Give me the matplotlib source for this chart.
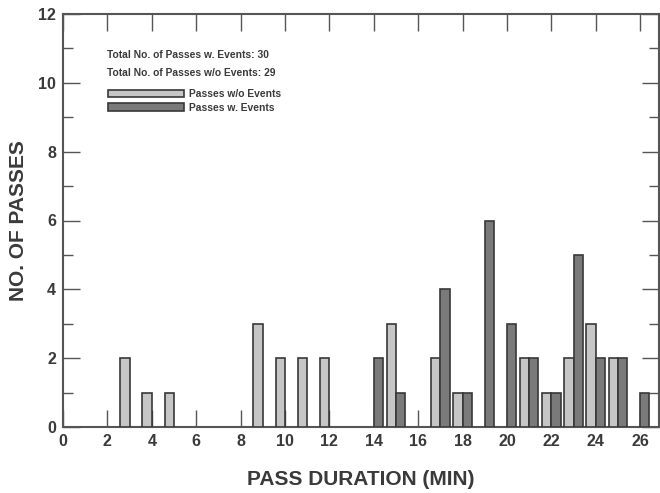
"""Histogram of pass durations, passes with and without events."""

import matplotlib
matplotlib.use("Agg")
import matplotlib.pyplot as plt
from matplotlib.patches import Patch
from matplotlib.ticker import MultipleLocator

# pass duration (min) -> number of passes
minutes_no_event = [3, 4, 5, 9, 10, 11, 12, 15, 17, 18, 21, 22, 23, 24, 25]
counts_no_event = [2, 1, 1, 3, 2, 2, 2, 3, 2, 1, 2, 1, 2, 3, 2]

minutes_event = [14, 15, 17, 18, 19, 20, 21, 22, 23, 24, 25, 26]
counts_event = [2, 1, 4, 1, 6, 3, 2, 1, 5, 2, 2, 1]

x_ticks = list(range(0, 27, 2))
y_ticks = list(range(0, 13, 2))

LIGHT = "#c6c6c6"
DARK = "#7a7a7a"
EDGE = "#383838"
TEXT = "#3a3a3a"

plt.rcParams["font.family"] = ["Liberation Sans", "DejaVu Sans"]
plt.rcParams["font.weight"] = "bold"

fig = plt.figure(figsize=(6.6, 4.93), dpi=100)
ax = fig.add_axes([63 / 660, 1 - 427 / 493, 596 / 660, 413 / 493])

width = 0.42
ax.bar(minutes_no_event, counts_no_event, width=-width, align="edge",
       color=LIGHT, edgecolor=EDGE, linewidth=1.2, zorder=3)
ax.bar(minutes_event, counts_event, width=width, align="edge",
       color=DARK, edgecolor=EDGE, linewidth=1.2, zorder=3)

ax.set_xlim(0, 26.85)
ax.set_ylim(0, 12)
ax.set_xticks(x_ticks)
ax.set_yticks(y_ticks)
ax.yaxis.set_minor_locator(MultipleLocator(1))

ax.tick_params(axis="both", which="major", direction="in", length=12,
               width=1, color="#555555", labelsize=11.5, labelcolor=TEXT,
               top=True, right=True, pad=5)
ax.tick_params(axis="y", which="minor", direction="in", length=7,
               width=1, color="#555555", right=True)
for lab in ax.get_xticklabels() + ax.get_yticklabels():
    lab.set_fontweight("bold")

for side in ax.spines.values():
    side.set_color("#555555")
    side.set_linewidth(1.5)

ax.set_xlabel("PASS DURATION (MIN)", fontsize=15, fontweight="bold",
              color=TEXT, labelpad=15)
ax.set_ylabel("NO. OF PASSES", fontsize=15, fontweight="bold",
              color=TEXT, labelpad=7)

ax.text(0.073, 0.900, "Total No. of Passes w. Events: 30",
        transform=ax.transAxes, fontsize=7.4, fontweight="bold",
        color=TEXT, va="center")
ax.text(0.073, 0.857, "Total No. of Passes w/o Events: 29",
        transform=ax.transAxes, fontsize=7.4, fontweight="bold",
        color=TEXT, va="center")

handles = [
    Patch(facecolor=LIGHT, edgecolor=EDGE, linewidth=1.2, label="Passes w/o Events"),
    Patch(facecolor=DARK, edgecolor=EDGE, linewidth=1.2, label="Passes w. Events"),
]
ax.legend(handles=handles, loc="upper left", bbox_to_anchor=(0.064, 0.836),
          frameon=False, handlelength=7.4, handleheight=0.75,
          handletextpad=0.4, labelspacing=0.35, borderpad=0.2,
          labelcolor=TEXT, prop={"weight": "bold", "size": 7.4})

fig.savefig("out.png", dpi=100)
